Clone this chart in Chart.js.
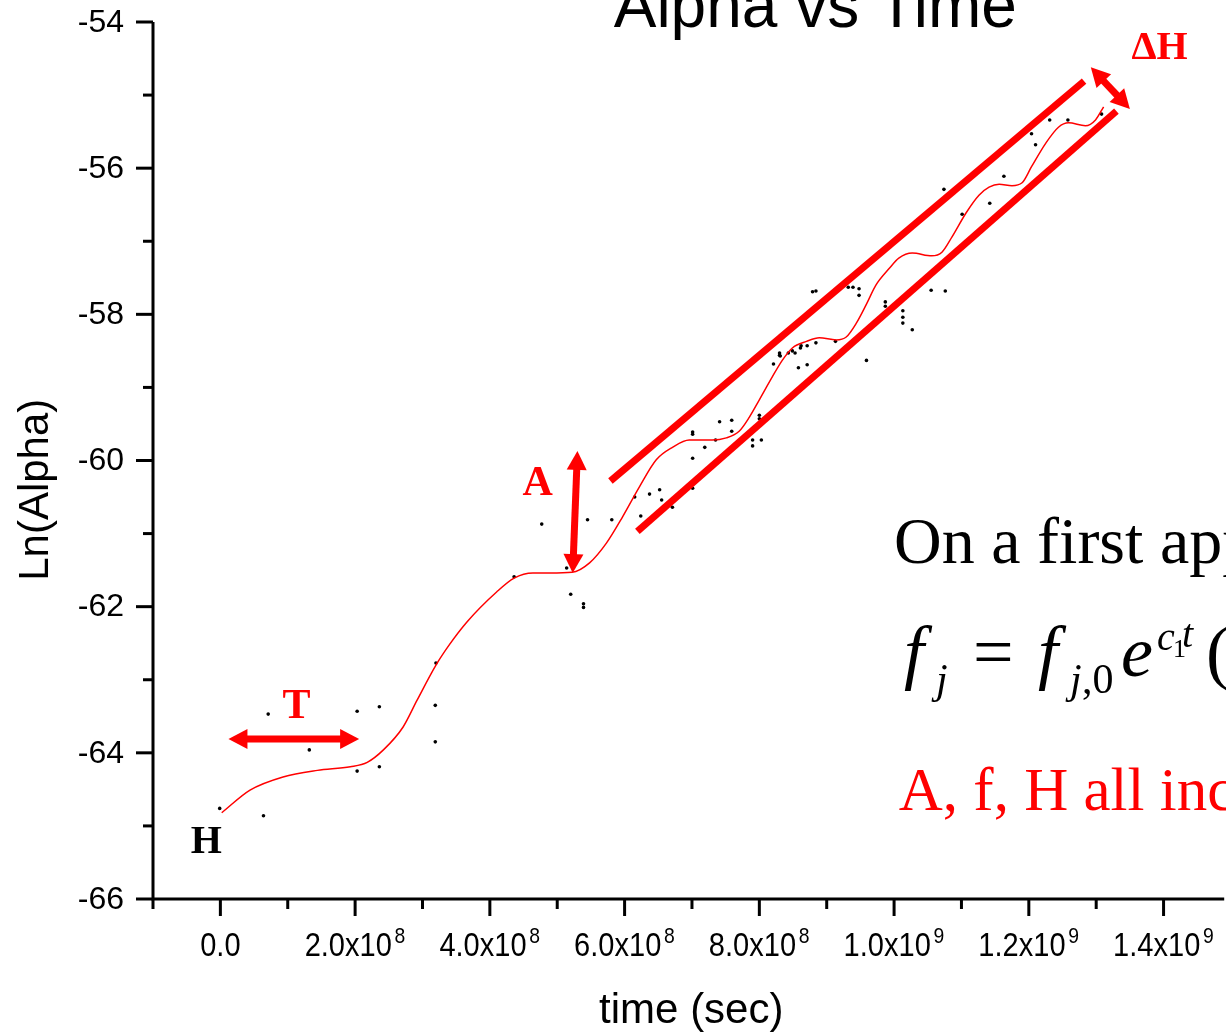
<!DOCTYPE html>
<html>
<head>
<meta charset="utf-8">
<script src="https://cdn.jsdelivr.net/npm/chart.js@4.4.1/dist/chart.umd.min.js"></script>
<style>
  html, body { margin: 0; padding: 0; background: #fff; overflow: hidden; }
  #wrap { width: 1226px; height: 1034px; }
</style>
</head>
<body>
<div id="wrap"><canvas id="c" width="1226" height="1034"></canvas></div>
<script>
// ---------------- data ----------------
// scatter: time (s) and Ln(Alpha)
const scatterTime = [
  -0.01e8, 0.64e8, 0.71e8, 1.32e8, 2.03e8, 2.36e8, 2.03e8, 2.36e8, 3.19e8, 3.19e8,
  3.20e8, 4.36e8, 4.77e8, 5.14e8, 5.20e8, 5.39e8, 5.39e8, 5.45e8, 5.81e8, 6.15e8,
  6.24e8, 6.37e8, 6.52e8, 6.55e8, 6.71e8, 7.01e8, 7.01e8, 7.01e8, 7.01e8, 7.19e8,
  7.35e8, 7.41e8, 7.59e8, 7.59e8, 7.90e8, 7.90e8, 8.00e8, 8.00e8, 8.03e8, 8.21e8,
  8.30e8, 8.30e8, 8.31e8, 8.43e8, 8.49e8, 8.53e8, 8.61e8, 8.62e8, 8.71e8, 8.84e8,
  8.58e8, 8.71e8, 9.13e8, 8.79e8, 8.84e8, 9.32e8, 9.39e8, 9.48e8, 9.48e8, 9.59e8,
  9.87e8, 9.87e8, 10.13e8, 10.13e8, 10.13e8, 10.27e8, 10.55e8, 10.76e8, 10.74e8, 11.01e8,
  11.42e8, 11.63e8, 12.04e8, 12.10e8, 12.31e8, 12.58e8, 13.08e8
];
const scatterLn = [
  -64.76, -64.86, -63.47, -63.96, -63.43, -63.37, -64.25, -64.19, -63.35, -63.85,
  -62.77, -61.59, -60.87, -61.47, -61.83, -61.96, -62.01, -60.81, -60.81, -60.50,
  -60.76, -60.46, -60.40, -60.54, -60.64, -59.61, -59.64, -59.97, -60.38, -59.82,
  -59.72, -59.47, -59.45, -59.60, -59.72, -59.80, -59.38, -59.43, -59.72, -58.68,
  -58.53, -58.56, -58.57, -58.53, -58.50, -58.53, -58.46, -58.43, -58.43, -58.39,
  -58.73, -58.69, -58.37, -57.69, -57.68, -57.63, -57.63, -57.65, -57.74, -58.63,
  -57.83, -57.89, -57.95, -58.04, -58.12, -58.21, -57.67, -57.68, -56.29, -56.63,
  -56.48, -56.11, -55.53, -55.68, -55.34, -55.34, -55.26
];
// smooth fit curve
const fitTime = [
  0.02e8, 0.44e8, 0.93e8, 1.44e8, 1.93e8, 2.18e8, 2.42e8, 2.71e8, 2.92e8, 3.20e8,
  3.40e8, 3.66e8, 4.10e8, 4.36e8, 4.64e8, 4.89e8, 5.22e8, 5.48e8, 5.73e8, 5.97e8, 6.22e8,
  6.47e8, 6.71e8, 6.96e8, 7.30e8, 7.51e8, 7.70e8, 7.85e8, 8.00e8, 8.19e8, 8.34e8,
  8.49e8, 8.70e8, 8.89e8, 9.14e8, 9.29e8, 9.44e8, 9.59e8, 9.73e8, 9.93e8, 10.07e8,
  10.27e8, 10.56e8, 10.71e8, 10.86e8, 11.07e8, 11.26e8, 11.41e8, 11.56e8, 11.75e8, 11.90e8,
  12.04e8, 12.25e8, 12.44e8, 12.59e8, 12.84e8, 12.99e8, 13.11e8
];
const fitLn = [
  -64.82, -64.51, -64.33, -64.24, -64.19, -64.13, -63.96, -63.65, -63.28, -62.80,
  -62.52, -62.21, -61.80, -61.61, -61.54, -61.54, -61.53, -61.40, -61.13, -60.77, -60.36,
  -59.99, -59.82, -59.72, -59.72, -59.69, -59.60, -59.41, -59.17, -58.86, -58.63,
  -58.46, -58.37, -58.32, -58.35, -58.31, -58.12, -57.86, -57.60, -57.37, -57.23,
  -57.16, -57.20, -57.15, -56.94, -56.61, -56.37, -56.26, -56.22, -56.24, -56.20,
  -55.98, -55.66, -55.44, -55.38, -55.42, -55.34, -55.16
];
// envelope lines (start, end)
const upperBandTime = [5.79e8, 12.82e8];
const upperBandLn   = [-60.28, -54.81];
const lowerBandTime = [6.19e8, 13.30e8];
const lowerBandLn   = [-60.97, -55.22];
// double arrows: [t1, y1, t2, y2]
const arrowT  = [0.12e8, -63.81, 2.06e8, -63.81];
const arrowA  = [5.30e8, -59.87, 5.23e8, -61.54];
const arrowDH = [12.92e8, -54.62, 13.50e8, -55.19];
// axes and ticks
const xMin = -1e8, xMax = 14.9e8, xStep = 1e8;
const yMin = -66, yMax = -54, yStep = 1;
const xMajorTicks = [0, 2e8, 4e8, 6e8, 8e8, 10e8, 12e8, 14e8];
const xMinorTicks = [-1e8, 1e8, 3e8, 5e8, 7e8, 9e8, 11e8, 13e8];
const xTickMantissa = ['0.0', '2.0x10', '4.0x10', '6.0x10', '8.0x10', '1.0x10', '1.2x10', '1.4x10'];
const xTickExponent = ['', '8', '8', '8', '8', '9', '9', '9'];
const yMajorTicks = [-66, -64, -62, -60, -58, -56, -54];
const yMinorTicks = [-65, -63, -61, -59, -57, -55];
const yTickLabels = ['-66', '-64', '-62', '-60', '-58', '-56', '-54'];
const titleText = 'Alpha vs Time';
const xTitle = 'time (sec)';
const yTitle = 'Ln(Alpha)';

const SANS = '"Liberation Sans", Arial, sans-serif';
const SERIF = '"Liberation Serif", "Times New Roman", serif';
const RED = '#ff0000';

const zip = (a, b) => a.map((v, i) => ({x: v, y: b[i]}));

function drawDoubleArrow(ctx, x1, y1, x2, y2, w, hl, hw) {
  const dx = x2 - x1, dy = y2 - y1, L = Math.hypot(dx, dy);
  const ux = dx / L, uy = dy / L, nx = -uy, ny = ux;
  ctx.save();
  ctx.fillStyle = RED; ctx.strokeStyle = RED;
  ctx.lineWidth = w; ctx.lineCap = 'butt';
  ctx.beginPath();
  ctx.moveTo(x1 + ux * hl * 0.9, y1 + uy * hl * 0.9);
  ctx.lineTo(x2 - ux * hl * 0.9, y2 - uy * hl * 0.9);
  ctx.stroke();
  const head = (tx, ty, sx, sy) => {
    ctx.beginPath();
    ctx.moveTo(tx, ty);
    ctx.lineTo(tx + sx * hl + nx * hw, ty + sy * hl + ny * hw);
    ctx.lineTo(tx + sx * hl - nx * hw, ty + sy * hl - ny * hw);
    ctx.closePath(); ctx.fill();
  };
  head(x1, y1, ux, uy);
  head(x2, y2, -ux, -uy);
  ctx.restore();
}

const annotate = {
  id: 'annotate',
  afterDatasetsDraw(chart) {
    const ctx = chart.ctx, xs = chart.scales.x, ys = chart.scales.y;
    const P = (t, v) => [xs.getPixelForValue(t), ys.getPixelForValue(v)];
    [arrowT, arrowA, arrowDH].forEach(a => {
      const [x1, y1] = P(a[0], a[1]), [x2, y2] = P(a[2], a[3]);
      drawDoubleArrow(ctx, x1, y1, x2, y2, 7, 19, 10);
    });
    ctx.save();
    ctx.textAlign = 'center'; ctx.textBaseline = 'alphabetic';
    ctx.fillStyle = RED; ctx.font = 'bold 42px ' + SERIF;
    let p = P(1.13e8, -63.53); ctx.fillText('T', p[0], p[1]);
    p = P(4.71e8, -60.47); ctx.fillText('A', p[0], p[1]);
    ctx.font = 'bold 40px ' + SERIF;
    p = P(13.94e8, -54.51); ctx.fillText('ΔH', p[0], p[1]);
    ctx.fillStyle = '#000'; ctx.font = 'bold 40px ' + SERIF;
    p = P(-0.21e8, -65.37); ctx.fillText('H', p[0], p[1]);
    ctx.restore();
  },
  afterDraw(chart) {
    const ctx = chart.ctx, xs = chart.scales.x, ys = chart.scales.y, ca = chart.chartArea;
    ctx.save();
    // axes
    ctx.strokeStyle = '#000'; ctx.lineWidth = 3; ctx.lineCap = 'butt';
    ctx.beginPath();
    ctx.moveTo(ca.left, ca.top); ctx.lineTo(ca.left, ca.bottom + 1.5);
    ctx.moveTo(ca.left - 1.5, ca.bottom); ctx.lineTo(ca.right, ca.bottom);
    ctx.stroke();
    // y ticks
    const yTick = (v, len) => {
      const y = ys.getPixelForValue(v);
      ctx.beginPath(); ctx.moveTo(ca.left, y); ctx.lineTo(ca.left - len, y); ctx.stroke();
    };
    yMajorTicks.forEach(v => yTick(v, 17));
    yMinorTicks.forEach(v => yTick(v, 10));
    ctx.fillStyle = '#000';
    ctx.font = '32px ' + SANS;
    ctx.textAlign = 'right'; ctx.textBaseline = 'middle';
    yMajorTicks.forEach((v, i) => {
      ctx.fillText(yTickLabels[i], ca.left - 29, ys.getPixelForValue(v) + 1);
    });
    // x ticks
    const xTick = (v, len) => {
      const x = xs.getPixelForValue(v);
      ctx.beginPath(); ctx.moveTo(x, ca.bottom); ctx.lineTo(x, ca.bottom + len); ctx.stroke();
    };
    xMajorTicks.forEach(v => xTick(v, 17));
    xMinorTicks.forEach(v => xTick(v, 10));
    const sx = 0.88;
    xMajorTicks.forEach((v, i) => {
      const x = xs.getPixelForValue(v);
      const m = xTickMantissa[i], e = xTickExponent[i];
      ctx.font = '33px ' + SANS;
      const w1 = ctx.measureText(m).width * sx;
      ctx.font = '22px ' + SANS;
      const w2 = e ? ctx.measureText(e).width * sx + 3 : 0;
      const x0 = x - (w1 + w2) / 2;
      ctx.save();
      ctx.translate(x0, ca.bottom + 57);
      ctx.scale(sx, 1);
      ctx.textAlign = 'left'; ctx.textBaseline = 'alphabetic';
      ctx.font = '33px ' + SANS;
      ctx.fillText(m, 0, 0);
      if (e) {
        ctx.font = '22px ' + SANS;
        ctx.fillText(e, w1 / sx + 3, -13);
      }
      ctx.restore();
    });
    // axis titles
    ctx.font = '42px ' + SANS;
    ctx.textAlign = 'center'; ctx.textBaseline = 'alphabetic';
    ctx.fillText(xTitle, xs.getPixelForValue(6.99e8), ca.bottom + 124);
    ctx.save();
    ctx.translate(48, ys.getPixelForValue(-60.4));
    ctx.rotate(-Math.PI / 2);
    ctx.fillText(yTitle, 0, 0);
    ctx.restore();
    // chart title (partly off the top)
    ctx.font = '64px ' + SANS;
    ctx.fillText(titleText, xs.getPixelForValue(8.83e8), ys.getPixelForValue(-54.07));
    // text block
    ctx.textAlign = 'left';
    let bx = xs.getPixelForValue(10.03e8);
    ctx.font = '66px ' + SERIF;
    ctx.fillText('On a first approximation', bx - 2, ys.getPixelForValue(-61.40));
    // formula
    const by = ys.getPixelForValue(-62.95);
    const piece = (txt, font, dx, dy) => { ctx.font = font; ctx.fillText(txt, bx + dx, by + dy); };
    const I = (s) => 'italic ' + s + 'px ' + SERIF, R = (s) => s + 'px ' + SERIF;
    piece('f', I(72), 8, 0);
    piece('j', I(42), 40, 17);
    piece('=', R(72), 77, 0);
    piece('f', I(72), 142, 0);
    piece('j', I(42), 174, 17);
    piece(',0', R(42), 186, 17);
    piece('e', I(72), 225, 0);
    piece('c', I(40), 261, -26);
    piece('1', R(26), 277, -19);
    piece('t', I(40), 286, -29);
    piece('(', R(72), 310, 0);
    // red statement
    ctx.fillStyle = RED;
    ctx.font = '61px ' + SERIF;
    ctx.fillText('A, f, H all increase', xs.getPixelForValue(10.07e8), ys.getPixelForValue(-64.78));
    ctx.restore();
  }
};

new Chart(document.getElementById('c'), {
  type: 'scatter',
  data: {
    datasets: [
      { label: 'data', data: zip(scatterTime, scatterLn), pointRadius: 1.8, pointHoverRadius: 1.8,
        backgroundColor: '#000', borderWidth: 0, order: 3 },
      { label: 'fit', type: 'line', data: zip(fitTime, fitLn), borderColor: RED, borderWidth: 1.5,
        pointRadius: 0, cubicInterpolationMode: 'monotone', fill: false, order: 2 },
      { label: 'upper', type: 'line', data: zip(upperBandTime, upperBandLn), borderColor: RED,
        borderWidth: 7, pointRadius: 0, fill: false, order: 1 },
      { label: 'lower', type: 'line', data: zip(lowerBandTime, lowerBandLn), borderColor: RED,
        borderWidth: 7, pointRadius: 0, fill: false, order: 1 }
    ]
  },
  options: {
    responsive: false,
    animation: false,
    events: [],
    layout: { padding: { top: 22, right: 0, left: 0, bottom: 0 } },
    plugins: { legend: { display: false }, tooltip: { enabled: false }, title: { display: false } },
    scales: {
      x: {
        type: 'linear', min: xMin, max: xMax,
        ticks: { display: false, stepSize: xStep },
        grid: { display: false }, border: { display: false },
        afterFit: s => { s.height = 135; }
      },
      y: {
        type: 'linear', min: yMin, max: yMax,
        ticks: { display: false, stepSize: yStep },
        grid: { display: false }, border: { display: false },
        afterFit: s => { s.width = 153; }
      }
    }
  },
  plugins: [annotate]
});
</script>
</body>
</html>
